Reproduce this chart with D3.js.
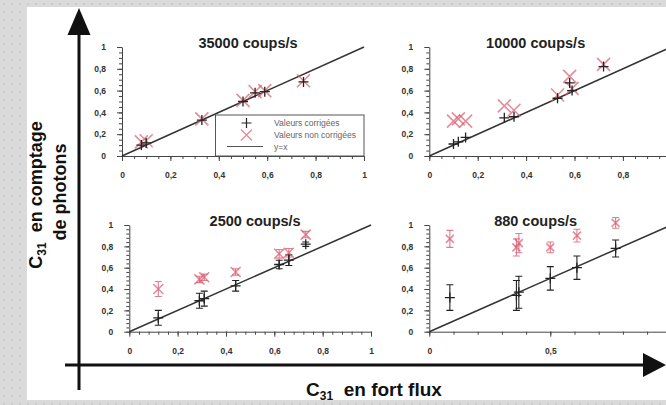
<!DOCTYPE html>
<html>
<head>
<meta charset="utf-8">
<script src="https://cdn.jsdelivr.net/npm/d3@7"></script>
<style>
  html, body { margin: 0; padding: 0; background: #d9d9d9; }
  svg { display: block; font-family: "Liberation Sans", Arial, sans-serif; }
</style>
</head>
<body>
<svg id="chart" width="666" height="405"></svg>
<script>
// ---- data -------------------------------------------------------------
const panelTitles = ["35000 coups/s", "10000 coups/s", "2500 coups/s", "880 coups/s"];

const x35000    = [0.08, 0.10, 0.33, 0.50, 0.55, 0.59, 0.75];
const corr35000 = [0.10, 0.12, 0.33, 0.50, 0.58, 0.59, 0.68];
const brut35000 = [0.13, 0.14, 0.34, 0.51, 0.59, 0.60, 0.69];

const x10000    = [0.10, 0.12, 0.15, 0.31, 0.35, 0.53, 0.58, 0.59, 0.72];
const corr10000 = [0.11, 0.13, 0.17, 0.35, 0.36, 0.53, 0.67, 0.60, 0.82];
const brut10000 = [0.32, 0.34, 0.32, 0.46, 0.42, 0.56, 0.73, 0.62, 0.84];

const x2500        = [0.12, 0.29, 0.31, 0.44, 0.62, 0.66, 0.73];
const corr2500     = [0.13, 0.29, 0.31, 0.43, 0.63, 0.67, 0.82];
const corrErr2500  = [0.07, 0.07, 0.07, 0.05, 0.04, 0.05, 0.02];
const brut2500     = [0.40, 0.49, 0.51, 0.56, 0.73, 0.74, 0.91];
const brutErr2500  = [0.07, 0.03, 0.03, 0.03, 0.04, 0.04, 0.03];

const x880        = [0.085, 0.36, 0.37, 0.50, 0.61, 0.77];
const corr880     = [0.32, 0.34, 0.37, 0.50, 0.60, 0.78];
const corrErr880  = [0.12, 0.14, 0.15, 0.11, 0.11, 0.08];
const brut880     = [0.87, 0.79, 0.83, 0.79, 0.90, 1.02];
const brutErr880  = [0.08, 0.08, 0.09, 0.05, 0.06, 0.05];

const tickLabels      = [0, 0.2, 0.4, 0.6, 0.8, 1];
const tickLabelsRight = [0, 0.2, 0.4, 0.6, 0.8];
const tickLabelsHalf  = [0, 0.5];
const legendLabels    = ["Valeurs corrigées", "Valeurs non corrigées", "y=x"];
const yTitle          = ["en comptage", "de photons"];
const xTitle          = "en fort flux";

// ---- layout -----------------------------------------------------------
const W = 666, H = 405;
const svg = d3.select("#chart");
const fr = d3.formatLocale({ decimal: ",", thousands: "\u00a0", grouping: [3], currency: ["", "\u00a0€"] });
const fmt = fr.format("~g");

const BLACK = "#222";
const PINK = "#d85c70";

const frames = [
  { left: 122,   right: 364,   top: 47,  bottom: 156,   xLab: tickLabels,      xMinor: 0.05, yMinor: 0.05, xs: 6.5, legend: true },
  { left: 429.3, right: 671.3, top: 47,  bottom: 156,   xLab: tickLabelsRight, xMinor: 0.05, yMinor: 0.05, xs: 6.5 },
  { left: 129.3, right: 371,   top: 225, bottom: 331.7, xLab: tickLabels,      xMinor: 0.04, yMinor: 0.04, xs: 5 },
  { left: 429.3, right: 671.3, top: 225, bottom: 331.7, xLab: tickLabelsHalf,  xMinor: 0.1,  yMinor: 0.04, xs: 4 }
];

const series = [
  { x: x35000, corr: corr35000, brut: brut35000 },
  { x: x10000, corr: corr10000, brut: brut10000 },
  { x: x2500,  corr: corr2500,  brut: brut2500,  corrErr: corrErr2500, brutErr: brutErr2500 },
  { x: x880,   corr: corr880,   brut: brut880,   corrErr: corrErr880,  brutErr: brutErr880 }
];

// ---- background ------------------------------------------------------
const defs = svg.append("defs");
const pat = defs.append("pattern").attr("id", "dots")
  .attr("width", 8).attr("height", 8).attr("patternUnits", "userSpaceOnUse");
pat.append("rect").attr("width", 8).attr("height", 8).attr("fill", "#dadada");
pat.append("rect").attr("x", 3).attr("y", 3).attr("width", 2).attr("height", 2).attr("fill", "#cbcbcb");
svg.append("rect").attr("width", W).attr("height", H).attr("fill", "url(#dots)");
svg.append("rect").attr("x", 27).attr("y", 7).attr("width", W - 27).attr("height", 393).attr("fill", "#fff");

// ---- marker helpers --------------------------------------------------
const plusPath  = (cx, cy, s) => `M${cx - s},${cy}H${cx + s}M${cx},${cy - s}V${cy + s}`;
const crossPath = (cx, cy, s) => `M${cx - s},${cy - s}L${cx + s},${cy + s}M${cx - s},${cy + s}L${cx + s},${cy - s}`;
const errPath   = (cx, y1, y2, c) => `M${cx},${y1}V${y2}M${cx - c},${y1}H${cx + c}M${cx - c},${y2}H${cx + c}`;

// ---- panels ------------------------------------------------------------
frames.forEach((f, p) => {
  const d = series[p];
  const x = d3.scaleLinear().domain([0, 1]).range([f.left, f.right]);
  const y = d3.scaleLinear().domain([0, 1]).range([f.bottom, f.top]);
  const g = svg.append("g");

  // minor ticks
  g.append("g").attr("transform", `translate(0,${f.bottom})`)
    .call(d3.axisBottom(x).tickValues(d3.range(0, 1 + 1e-9, f.xMinor)).tickSize(3).tickSizeOuter(0).tickFormat(""))
    .call(a => a.select(".domain").remove());
  g.append("g").attr("transform", `translate(${f.left},0)`)
    .call(d3.axisLeft(y).tickValues(d3.range(0, 1 + 1e-9, f.yMinor)).tickSize(3).tickSizeOuter(0).tickFormat(""))
    .call(a => a.select(".domain").remove());

  // major ticks with labels
  const ax = g.append("g").attr("transform", `translate(0,${f.bottom})`)
    .call(d3.axisBottom(x).tickValues(f.xLab).tickSize(5).tickSizeOuter(0).tickPadding(11).tickFormat(fmt));
  const ay = g.append("g").attr("transform", `translate(${f.left},0)`)
    .call(d3.axisLeft(y).tickValues(tickLabels).tickSize(5).tickSizeOuter(0).tickPadding(11).tickFormat(fmt));
  [ax, ay].forEach(a => {
    a.selectAll("text").attr("font-size", 8.5).attr("font-weight", "bold").attr("fill", "#333")
      .attr("font-family", "'Liberation Sans', Arial, sans-serif");
    a.selectAll("line, path").attr("stroke", "#444");
  });
  g.selectAll(".tick line").attr("stroke", "#444");

  // title
  g.append("text").attr("x", (f.left + Math.min(f.right, 660) + (p % 2 ? -10 : 0)) / 2 + (p % 2 ? -4 : 5))
    .attr("y", f.top + 1)
    .attr("text-anchor", "middle").attr("font-size", 14.5).attr("font-weight", "bold").attr("fill", "#222")
    .text(panelTitles[p]);

  // y = x line
  g.append("line").attr("x1", x(0)).attr("y1", y(0)).attr("x2", x(1)).attr("y2", y(1))
    .attr("stroke", "#333").attr("stroke-width", 1.5);

  const idx = d3.range(d.x.length);

  // error bars
  if (d.brutErr) {
    g.append("g").selectAll("path").data(idx).join("path")
      .attr("d", i => errPath(x(d.x[i]), y(d.brut[i] - d.brutErr[i]), y(d.brut[i] + d.brutErr[i]), 3.5))
      .attr("fill", "none").attr("stroke", PINK).attr("stroke-opacity", 0.8).attr("stroke-width", 1.1);
  }
  if (d.corrErr) {
    g.append("g").selectAll("path").data(idx).join("path")
      .attr("d", i => errPath(x(d.x[i]), y(d.corr[i] - d.corrErr[i]), y(d.corr[i] + d.corrErr[i]), 3.5))
      .attr("fill", "none").attr("stroke", BLACK).attr("stroke-width", 1.1);
  }

  // uncorrected values (crosses)
  g.append("g").selectAll("path").data(idx).join("path")
    .attr("d", i => crossPath(x(d.x[i]), y(d.brut[i]), f.xs))
    .attr("fill", "none").attr("stroke", PINK).attr("stroke-opacity", 0.7).attr("stroke-width", 1.6);

  // corrected values (plus signs)
  g.append("g").selectAll("path").data(idx).join("path")
    .attr("d", i => plusPath(x(d.x[i]), y(d.corr[i]), 5))
    .attr("fill", "none").attr("stroke", BLACK).attr("stroke-width", 1.3);

  // legend
  if (f.legend) {
    const lg = g.append("g");
    lg.append("rect").attr("x", 215.5).attr("y", 115).attr("width", x(1) - 215.5).attr("height", f.bottom - 115)
      .attr("fill", "#fff").attr("stroke", "#555").attr("stroke-width", 1);
    const rows = [123, 135, 146.5];
    lg.append("path").attr("d", plusPath(246.5, rows[0], 5)).attr("stroke", BLACK).attr("stroke-width", 1.2);
    lg.append("path").attr("d", crossPath(246.5, rows[1], 5.5)).attr("stroke", PINK).attr("stroke-opacity", 0.7).attr("stroke-width", 1.4);
    lg.append("line").attr("x1", 227).attr("x2", 263).attr("y1", rows[2]).attr("y2", rows[2]).attr("stroke", "#555").attr("stroke-width", 1.2);
    lg.selectAll("text").data(legendLabels).join("text")
      .attr("x", 274).attr("y", (t, i) => rows[i] + 3)
      .attr("font-size", 8.5).attr("fill", "#666").text(t => t);
  }
});

// ---- main arrows ------------------------------------------------------
svg.append("line").attr("x1", 79).attr("y1", 30).attr("x2", 79).attr("y2", 390)
  .attr("stroke", "#111").attr("stroke-width", 3);
svg.append("path").attr("d", "M79,8L67.5,35L90.5,35Z").attr("fill", "#111");
svg.append("line").attr("x1", 65).attr("y1", 365).attr("x2", 648).attr("y2", 365)
  .attr("stroke", "#111").attr("stroke-width", 3);
svg.append("path").attr("d", "M666,365L643,353L643,377Z").attr("fill", "#111");

// ---- axis titles ------------------------------------------------------
const yt = svg.append("g").attr("font-weight", "bold").attr("font-size", 18).attr("fill", "#111");
const t1 = yt.append("text").attr("transform", "translate(42,195) rotate(-90)").attr("text-anchor", "middle");
t1.append("tspan").text("C");
t1.append("tspan").attr("font-size", 12).attr("dy", 4).text("31");
t1.append("tspan").attr("dy", -4).text("\u00a0 " + yTitle[0]);
yt.append("text").attr("transform", "translate(66,192) rotate(-90)").attr("text-anchor", "middle").text(yTitle[1]);

const xt = svg.append("text").attr("x", 374).attr("y", 396).attr("text-anchor", "middle")
  .attr("font-size", 19).attr("font-weight", "bold").attr("fill", "#111");
xt.append("tspan").text("C");
xt.append("tspan").attr("font-size", 12).attr("dy", 4).text("31");
xt.append("tspan").attr("dy", -4).text("\u00a0 " + xTitle);
</script>
</body>
</html>
